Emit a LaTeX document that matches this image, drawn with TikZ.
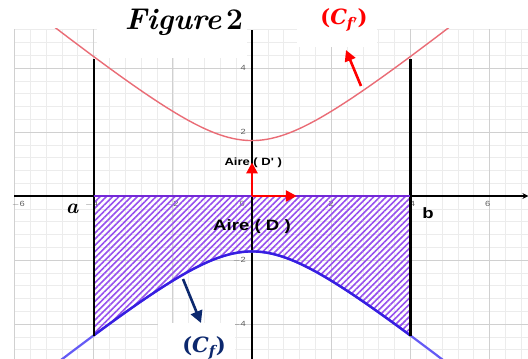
\documentclass[tikz,border=0pt]{standalone}
\usepackage{amsmath}
\usepackage{fontspec}
\newfontfamily\arialf{Liberation Sans}
\newfontfamily\heavyf{DejaVu Serif}
\usetikzlibrary{arrows.meta,patterns.meta}
\definecolor{gridminor}{RGB}{236,236,236}
\definecolor{gridmajor}{RGB}{208,208,208}
\definecolor{redcurve}{RGB}{234,108,118}
\definecolor{hatchc}{RGB}{150,80,238}
\definecolor{purpleline}{RGB}{115,40,215}
\definecolor{bluecurve}{RGB}{100,90,245}
\definecolor{bluein}{RGB}{55,30,225}
\definecolor{navyc}{RGB}{12,40,110}
\definecolor{tickc}{RGB}{95,95,95}
\tikzset{
  gmin/.style={draw=gridminor,line width=0.6pt},
  gmaj/.style={draw=gridmajor,line width=0.8pt},
  axisline/.style={draw=black,line width=1.1pt},
  ticklab/.style={text=tickc,font=\arialf\fontsize{7.5}{8}\selectfont,inner sep=0pt},
  bound/.style={draw=black,line width=2.2pt},
  vecarrow/.style={draw=red,line width=2.6pt,-{Triangle[length=11pt,width=11pt]}},
  navyarrow/.style={draw=navyc,line width=2.6pt,-{Triangle[length=12pt,width=12pt]}},
  whitebox/.style={fill=white,draw=none},
  geolab/.style={font=\arialf\bfseries,inner sep=0pt},
  boldlab/.style={inner sep=0pt,font={\heavyf\fontsize{21}{23}\selectfont\bfseries}}
}
\begin{document}
\begin{tikzpicture}
\useasboundingbox (0pt,0pt) rectangle (528pt,-359pt);
\fill[white] (0pt,0pt) rectangle (528pt,-359pt);
\begin{scope}[shift={(252pt,-196pt)}, x=39.6pt, y=32pt]
  \begin{scope}
    \clip (-6.01,-5.1) rectangle (7,5.22);
    \foreach \i in {-15,...,17} \draw[gmin] (\i*0.4,-5.1) -- (\i*0.4,5.22);
    \foreach \j in {-12,...,13} \draw[gmin] (-6.01,\j*0.4) -- (7,\j*0.4);
    \foreach \i in {-6,-4,-2,2,4,6} \draw[gmaj] (\i,-5.1) -- (\i,5.22);
    \foreach \j in {-4,-2,2,4} \draw[gmaj] (-6.01,\j) -- (7,\j);
  \end{scope}
  % tick labels
  \node[ticklab] (tm6) at (-5.9,-0.25) {\scalebox{1.24}[1]{$-$6}};
  \node[ticklab] (tm4) at (-4.05,-0.25) {\scalebox{1.24}[1]{$-$4}};
  \node[ticklab] (tm2) at (-2.02,-0.25) {\scalebox{1.24}[1]{$-$2}};
  \node[ticklab] (t0) at (-0.25,-0.25) {\scalebox{1.24}[1]{0}};
  \node[ticklab] (t2) at (2,-0.25) {\scalebox{1.24}[1]{2}};
  \node[ticklab] (t4) at (4.05,-0.25) {\scalebox{1.24}[1]{4}};
  \node[ticklab] (t6) at (5.95,-0.25) {\scalebox{1.24}[1]{6}};
  \node[ticklab,anchor=east] (u4) at (-0.15,4) {\scalebox{1.24}[1]{4}};
  \node[ticklab,anchor=east] (u2) at (-0.15,2) {\scalebox{1.24}[1]{2}};
  \node[ticklab,anchor=east] (um2) at (-0.15,-2) {\scalebox{1.24}[1]{$-$2}};
  \node[ticklab,anchor=east] (um4) at (-0.15,-4) {\scalebox{1.24}[1]{$-$4}};
  % hatched area
  \fill[pattern={Lines[angle=45,distance=4.4pt,line width=1.6pt]}, pattern color=hatchc]
    (-4,0) -- (4,0) -- plot[domain=4:-4,samples=80] ({\x},{-sqrt(\x*\x+3)}) -- cycle;
  % axes
  \coordinate (xl) at (-6.01,0);
  \coordinate (xr) at (6.98,0);
  \coordinate (yb) at (0,-5.1);
  \coordinate (yt) at (0,5.2);
  \draw[axisline,-{Stealth[length=6pt,width=6pt]}] (xl) -- (xr);
  \draw[axisline] (yb) -- (yt);
  % curves
  \begin{scope}
    \clip (-6.01,-5.1) rectangle (7,5.22);
    \draw[redcurve,line width=1.4pt] plot[domain=-6.1:7,samples=120] ({\x},{sqrt(\x*\x+3)});
    \draw[bluecurve,line width=2.2pt] plot[domain=-6.1:7,samples=120] ({\x},{-sqrt(\x*\x+3)});
    \draw[bluein,line width=2.4pt] plot[domain=-4:4,samples=80] ({\x},{-sqrt(\x*\x+3)});
  \end{scope}
  % bounds
  \coordinate (aL) at (-4,-4.36);
  \coordinate (aH) at (-4,4.28);
  \coordinate (bL) at (4,-4.36);
  \coordinate (bH) at (4,4.28);
  \draw[bound] (aL) -- (aH);
  \draw[bound] (bL) -- (bH);
  \coordinate (pl) at (-4,0);
  \coordinate (pr) at (4,0);
  \draw[purpleline,line width=1.6pt] (pl) -- (pr);
  % area labels
  \node[geolab,font=\arialf\bfseries\fontsize{10.5}{12}\selectfont] (aireDp) at (0.03,1.03) {\scalebox{1.24}[1]{Aire ( D' )}};
  \node[geolab,font=\arialf\bfseries\fontsize{15}{17}\selectfont] (aireD) at (0,-0.97) {\scalebox{1.24}[1]{Aire ( D )}};
  % unit vectors
  \coordinate (O) at (0,0);
  \coordinate (ex) at (1.13,0);
  \coordinate (ey) at (0,1.05);
  \draw[vecarrow] (O) -- (ex);
  \draw[vecarrow] (O) -- (ey);
\end{scope}
% a and b
\node[inner sep=0pt,font={\fontsize{21}{23}\selectfont\bfseries}] (la) at (72pt,-209pt) {\itshape a};
\node[geolab,font=\arialf\bfseries\fontsize{15}{17}\selectfont] (lb) at (428pt,-213pt) {\scalebox{1.24}[1]{b}};
% title
\fill[whitebox] (97pt,0pt) rectangle (247pt,-58pt);
\node[inner sep=0pt,font=\fontsize{30}{32}\selectfont] (title) at (184pt,-22pt) {\bfseries\itshape Figure\,\upshape 2};
% C_f' label
\fill[whitebox] (297pt,0pt) rectangle (377pt,-47pt);
\node[boldlab,text=red] (cfp) at (344pt,-20pt) {(\textit{C}\textsubscript{\itshape f$\boldsymbol{'}$})};
\coordinate (cfpTail) at (361pt,-86pt);
\coordinate (cfpTip) at (346pt,-50pt);
\draw[vecarrow] (cfpTail) -- (cfpTip);
% C_f label
\fill[whitebox] (158pt,-323pt) rectangle (235pt,-359pt);
\node[boldlab,text=navyc] (cf) at (204pt,-348pt) {(\textit{C}\textsubscript{\itshape f})};
\coordinate (cfTail) at (183pt,-279pt);
\coordinate (cfTip) at (201pt,-323pt);
\draw[navyarrow] (cfTail) -- (cfTip);
\end{tikzpicture}
\end{document}
